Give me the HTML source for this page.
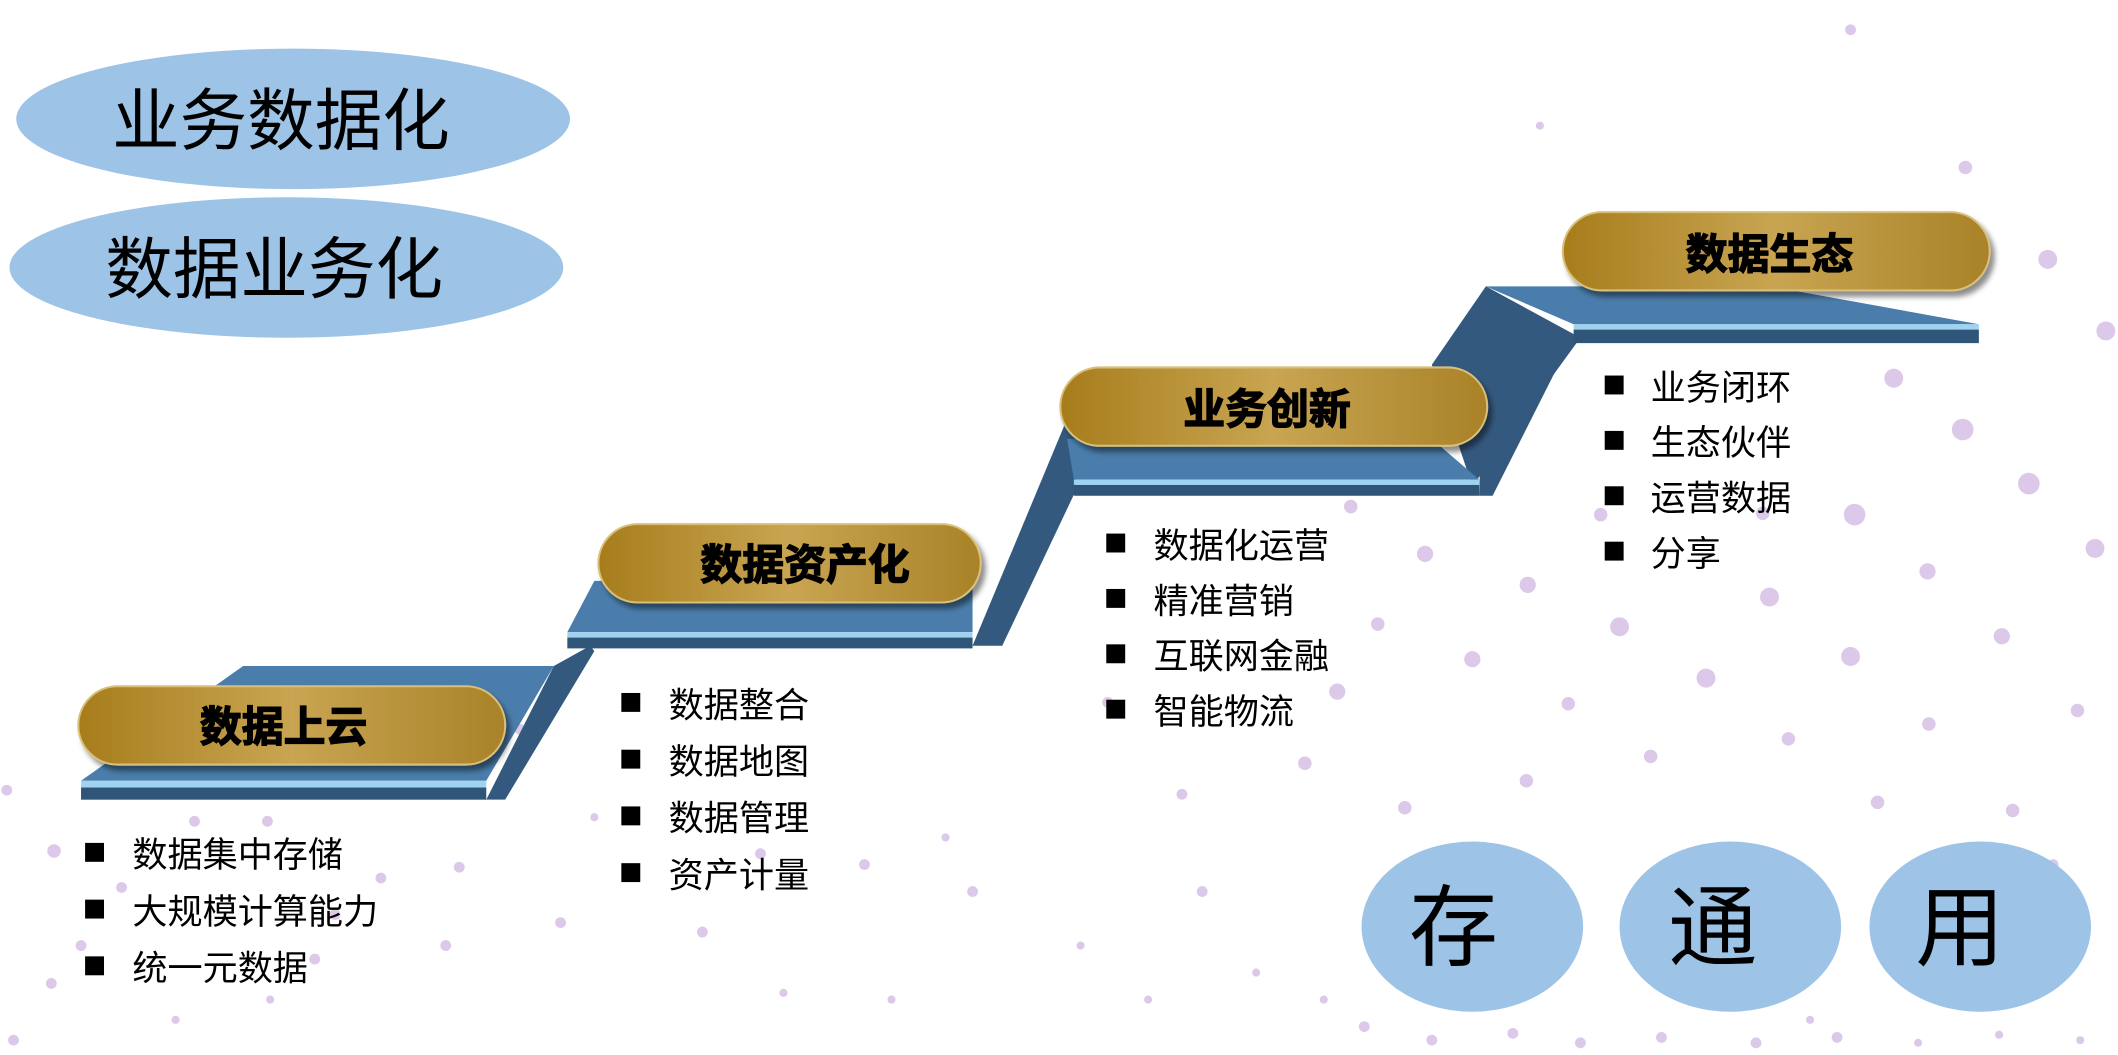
<!DOCTYPE html>
<html><head><meta charset="utf-8">
<style>
html,body{margin:0;padding:0;background:#fff;width:2118px;height:1055px;overflow:hidden}
svg{display:block}
.t{font-family:"Liberation Sans","Noto Sans CJK SC",sans-serif}
</style></head><body>
<svg width="2118" height="1055" viewBox="0 0 1568 781" xmlns="http://www.w3.org/2000/svg">
<defs>
<linearGradient id="g" x1="0" y1="0" x2="1" y2="0">
<stop offset="0" stop-color="#a77d1c"/><stop offset="0.5" stop-color="#c9a552"/><stop offset="1" stop-color="#a98228"/>
</linearGradient>
<filter id="sh" x="-10%" y="-30%" width="120%" height="170%"><feDropShadow dx="3" dy="4" stdDeviation="2" flood-color="#000" flood-opacity="0.45"/></filter>
</defs>
<g fill="#dcc8e8">
<circle cx="1370" cy="22" r="4"/><circle cx="1455" cy="124" r="5"/><circle cx="1516" cy="192" r="7"/><circle cx="1559" cy="245" r="7"/>
<circle cx="1402" cy="280" r="7"/><circle cx="1453" cy="318" r="8"/><circle cx="1502" cy="358" r="8"/><circle cx="1373" cy="381" r="8"/>
<circle cx="1551" cy="406" r="7"/><circle cx="1427" cy="423" r="6"/><circle cx="1310" cy="442" r="7"/><circle cx="1199" cy="464" r="7"/>
<circle cx="1482" cy="471" r="6"/><circle cx="1370" cy="486" r="7"/><circle cx="1263" cy="502" r="7"/><circle cx="1161" cy="521" r="5"/>
<circle cx="1538" cy="526" r="5"/><circle cx="1428" cy="536" r="5"/><circle cx="1324" cy="547" r="5"/><circle cx="1222" cy="560" r="5"/>
<circle cx="1131" cy="433" r="6"/><circle cx="1055" cy="410" r="6"/><circle cx="1090" cy="488" r="6"/><circle cx="1020" cy="462" r="5"/>
<circle cx="1000" cy="375" r="5"/><circle cx="990" cy="512" r="6"/><circle cx="966" cy="565" r="5"/><circle cx="1130" cy="578" r="5"/>
<circle cx="1040" cy="598" r="5"/><circle cx="1390" cy="594" r="5"/><circle cx="1490" cy="600" r="5"/><circle cx="1140" cy="93" r="3"/>
<circle cx="1185" cy="381" r="5"/><circle cx="1305" cy="380" r="5"/><circle cx="1520" cy="640" r="4"/>
<circle cx="38" cy="728" r="4"/><circle cx="10" cy="770" r="4"/><circle cx="78" cy="795" r="4"/><circle cx="5" cy="585" r="4"/>
<circle cx="40" cy="630" r="5"/><circle cx="90" cy="657" r="4"/><circle cx="144" cy="608" r="4"/><circle cx="198" cy="608" r="4"/>
<circle cx="248" cy="677" r="4"/><circle cx="330" cy="700" r="4"/><circle cx="282" cy="650" r="4"/><circle cx="340" cy="642" r="4"/>
<circle cx="233" cy="710" r="4"/><circle cx="60" cy="700" r="4"/><circle cx="200" cy="740" r="3"/><circle cx="130" cy="755" r="3"/>
<circle cx="385" cy="540" r="4"/><circle cx="415" cy="683" r="4"/><circle cx="440" cy="605" r="3"/><circle cx="520" cy="690" r="4"/>
<circle cx="563" cy="632" r="4"/><circle cx="640" cy="640" r="4"/><circle cx="720" cy="660" r="4"/><circle cx="700" cy="620" r="3"/>
<circle cx="580" cy="735" r="3"/><circle cx="660" cy="740" r="3"/><circle cx="800" cy="700" r="3"/><circle cx="875" cy="588" r="4"/>
<circle cx="890" cy="660" r="4"/><circle cx="850" cy="740" r="3"/><circle cx="930" cy="720" r="3"/><circle cx="820" cy="520" r="4"/>
<circle cx="1010" cy="760" r="4"/><circle cx="1060" cy="770" r="4"/><circle cx="1120" cy="765" r="4"/><circle cx="1170" cy="772" r="4"/>
<circle cx="1230" cy="768" r="4"/><circle cx="1300" cy="772" r="4"/><circle cx="1360" cy="768" r="4"/><circle cx="1420" cy="772" r="3"/>
<circle cx="1480" cy="766" r="3"/><circle cx="1540" cy="770" r="3"/><circle cx="980" cy="740" r="3"/><circle cx="1340" cy="755" r="3"/>
</g>
<ellipse cx="217" cy="88" rx="205" ry="52" fill="#9dc3e6"/>
<ellipse cx="212" cy="198" rx="205" ry="52" fill="#9dc3e6"/>
<text class="t" x="208" y="107" font-size="50" text-anchor="middle" fill="#000">业务数据化</text>
<text class="t" x="203" y="217" font-size="50" text-anchor="middle" fill="#000">数据业务化</text>
<g>
<polygon points="360,592 410,493 437,478 440,482 374,592" fill="#34597f"/>
<polygon points="720,478 790,310 800,312 797,362 742,478" fill="#34597f"/>
<polygon points="1095,367 1100,212 1165,248 1105,367" fill="#34597f"/>
<polygon points="1060,270 1100,212 1170,250 1090,360" fill="#34597f"/>
<polygon points="180,493 410,493 360,578 60,578" fill="#4a7dab"/>
<rect x="60" y="578" width="300" height="5" fill="#9fd3f0"/>
<rect x="60" y="583" width="300" height="9" fill="#2f5578"/>
<polygon points="440,430 720,430 720,468 420,468" fill="#4a7dab"/>
<rect x="420" y="468" width="300" height="4" fill="#9fd3f0"/>
<rect x="420" y="472" width="300" height="8" fill="#2f5578"/>
<polygon points="790,325 1060,325 1095,355 795,355" fill="#4a7dab"/>
<rect x="795" y="355" width="300" height="4" fill="#9fd3f0"/>
<rect x="795" y="359" width="300" height="8" fill="#2f5578"/>
<polygon points="1100,212 1310,212 1465,240 1165,240" fill="#4a7dab"/>
<rect x="1165" y="240" width="300" height="4" fill="#9fd3f0"/>
<rect x="1165" y="244" width="300" height="10" fill="#2f5578"/>
</g>
<g filter="url(#sh)">
<rect x="58" y="508" width="316" height="58" rx="29" fill="url(#g)" stroke="#d8c07a" stroke-width="1.5"/>
<rect x="443" y="388" width="283" height="58" rx="29" fill="url(#g)" stroke="#d8c07a" stroke-width="1.5"/>
<rect x="785" y="272" width="316" height="58" rx="29" fill="url(#g)" stroke="#d8c07a" stroke-width="1.5"/>
<rect x="1157" y="157" width="316" height="58" rx="29" fill="url(#g)" stroke="#d8c07a" stroke-width="1.5"/>
</g>
<g class="t" font-size="31" font-weight="bold" fill="#000" style="paint-order:stroke" stroke="#000" stroke-width="1">
<text x="210" y="549" text-anchor="middle">数据上云</text>
<text x="596" y="429" text-anchor="middle">数据资产化</text>
<text x="938" y="314" text-anchor="middle">业务创新</text>
<text x="1310" y="199" text-anchor="middle">数据生态</text>
</g>
<g class="t" font-size="26" fill="#000">
<rect x="63" y="624" width="14" height="14"/><text x="98" y="642">数据集中存储</text>
<rect x="63" y="666" width="14" height="14"/><text x="98" y="684">大规模计算能力</text>
<rect x="63" y="708" width="14" height="14"/><text x="98" y="726">统一元数据</text>
<rect x="460" y="513" width="14" height="14"/><text x="495" y="531">数据整合</text>
<rect x="460" y="555" width="14" height="14"/><text x="495" y="573">数据地图</text>
<rect x="460" y="597" width="14" height="14"/><text x="495" y="615">数据管理</text>
<rect x="460" y="639" width="14" height="14"/><text x="495" y="657">资产计量</text>
<rect x="819" y="395" width="14" height="14"/><text x="854" y="413">数据化运营</text>
<rect x="819" y="436" width="14" height="14"/><text x="854" y="454">精准营销</text>
<rect x="819" y="477" width="14" height="14"/><text x="854" y="495">互联网金融</text>
<rect x="819" y="518" width="14" height="14"/><text x="854" y="536">智能物流</text>
<rect x="1188" y="278" width="14" height="14"/><text x="1222" y="296">业务闭环</text>
<rect x="1188" y="319" width="14" height="14"/><text x="1222" y="337">生态伙伴</text>
<rect x="1188" y="360" width="14" height="14"/><text x="1222" y="378">运营数据</text>
<rect x="1188" y="401" width="14" height="14"/><text x="1222" y="419">分享</text>
</g>
<ellipse cx="1090" cy="686" rx="82" ry="63" fill="#9dc3e6"/>
<ellipse cx="1281" cy="686" rx="82" ry="63" fill="#9dc3e6"/>
<ellipse cx="1466" cy="686" rx="82" ry="63" fill="#9dc3e6"/>
<g class="t" font-size="66" fill="#000" text-anchor="middle">
<text x="1076" y="710">存</text>
<text x="1268" y="710">通</text>
<text x="1451" y="710">用</text>
</g>
</svg>
</body></html>
